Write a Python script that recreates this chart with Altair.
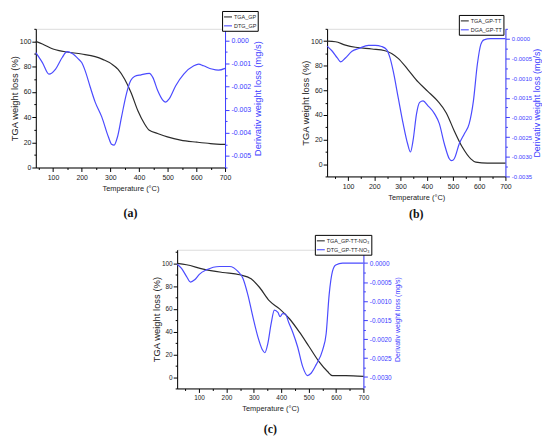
import altair as alt
import pandas as pd

# ---------------- data ----------------
# Panel (a)
a_names = ["TGA_GP", "DTG_GP"]
a_tga_T = [40, 63, 100, 121, 149, 200, 247, 275, 304, 327, 350, 372, 396, 419, 436, 465, 499, 545, 602, 649, 700]
a_tga_V = [100, 98, 94, 92.7, 91.6, 90, 88, 85.6, 82.2, 77.8, 70, 59.5, 45, 34.7, 29.5, 27, 24.3, 21.7, 20.1, 19, 18.3]
a_dtg_T = [40, 63, 86, 109, 132, 149, 167, 189, 200, 212, 230, 247, 270, 293, 304, 313, 325, 339, 356, 371,
           384, 407, 436, 448, 465, 482, 493, 505, 528, 556, 591, 608, 625, 654, 677, 700]
a_dtg_V = [-0.00053, -0.00096, -0.00146, -0.00124, -0.00074, -0.00049, -0.00057, -0.00081, -0.00096, -0.00131,
           -0.00203, -0.00267, -0.00331, -0.00417, -0.00449, -0.00453, -0.00417, -0.00331, -0.00231, -0.00174,
           -0.00156, -0.00149, -0.00143, -0.00160, -0.00217, -0.00257, -0.00267, -0.00253, -0.00196, -0.00146,
           -0.00110, -0.00103, -0.00110, -0.00124, -0.00129, -0.00121]

# Panel (b)
b_names = ["TGA_GP-TT", "DGA_GP-TT"]
b_tga_T = [20, 52, 90, 128, 191, 241, 266, 291, 329, 367, 404, 442, 474, 505, 536, 568, 587, 631, 700]
b_tga_V = [100, 99.5, 96.8, 95, 93.6, 92.2, 90, 86, 76.7, 66.8, 59.2, 51.2, 41.8, 27, 13.7, 4.3, 1.6, 0.8, 0.8]
b_dtg_T = [20, 40, 59, 72, 90, 115, 141, 178, 203, 228, 247, 260, 272, 291, 310, 327, 338, 348, 361, 373,
           386, 404, 430, 448, 467, 486, 495, 505, 524, 543, 562, 578, 593, 606, 618, 643, 700]
b_dtg_V = [-0.00019, -0.00032, -0.00049, -0.00059, -0.00049, -0.00032, -0.00025, -0.00017, -0.00017, -0.00020,
           -0.00028, -0.00049, -0.00082, -0.00149, -0.00216, -0.00267, -0.00288, -0.00258, -0.00191, -0.00162,
           -0.00158, -0.00170, -0.00191, -0.00216, -0.00267, -0.00305, -0.00310, -0.00305, -0.00267, -0.00242,
           -0.00216, -0.00158, -0.00065, -0.00015, -0.00003, 0.0, 0.0]

# Panel (c)
c_names = ["TGA_GP-TT-NO₃", "DTG_GP-TT-NO₃"]
c_tga_T = [20, 54, 115, 187, 248, 290, 321, 357, 394, 430, 466, 502, 538, 569, 587, 636, 700]
c_tga_V = [100, 98.8, 95, 92, 90, 86.4, 78.8, 67, 60, 51.3, 39.7, 26.7, 13.6, 4.9, 1.2, 1.2, 0.6]
c_dtg_T = [20, 36, 54, 69, 84, 102, 127, 175, 212, 242, 260, 278, 297, 315, 331, 340, 351, 363, 375, 388,
           396, 405, 415, 427, 442, 460, 478, 496, 509, 527, 551, 564, 575, 587, 599, 624, 700]
c_dtg_V = [-0.00003, -0.00014, -0.00035, -0.00050, -0.00044, -0.00029, -0.00018, -0.00009, -0.00009, -0.00022,
           -0.00040, -0.00083, -0.00143, -0.00195, -0.00228, -0.00236, -0.00212, -0.00160, -0.00124, -0.00130,
           -0.00141, -0.00133, -0.00134, -0.00156, -0.00182, -0.00221, -0.00272, -0.00296, -0.00290, -0.00268,
           -0.00229, -0.00186, -0.00083, -0.00022, -0.00005, 0.0, 0.0]

# ---------------- styling ----------------
BLACK = "#2b2b2b"
BLUE = "#4b4bff"
AXBLUE = "#3c3cff"
SANS = "Liberation Sans"
SERIF = "Liberation Serif"


def ticks(lo, hi, step):
    n = int(round((hi - lo) / step))
    return [round(lo + i * step, 6) + 0.0 for i in range(n + 1)]


def make_panel(names, tga_T, tga_V, dtg_T, dtg_V, x_dom, yl_dom, yr_dom, yl_ticks, yr_ticks,
               yr_fmt, yr_mult, w, h, legend_xy, caption, cap_offset,
               ylt_size=9.5, yrt_size=9.5, xt_size=7.5, lab_size=7, rlab_size=7, leg_size=5.5,
               rt_pad=2):
    tga_df = pd.DataFrame({"T": tga_T, "v": tga_V, "s": names[0]})
    dtg_df = pd.DataFrame({"T": dtg_T, "v": dtg_V, "s": names[1]})

    color = alt.Color(
        "s:N",
        scale=alt.Scale(domain=names, range=[BLACK, BLUE]),
        legend=alt.Legend(
            orient="none", legendX=legend_xy[0], legendY=legend_xy[1], title=None,
            strokeColor="#000000", fillColor="white", padding=1, rowPadding=-4,
            labelFont=SANS, labelFontSize=leg_size, labelColor="#222222", labelLimit=200,
            symbolType="stroke", symbolSize=64, symbolStrokeWidth=1.1, labelOffset=1,
        ),
    )
    x = alt.X(
        "T:Q",
        scale=alt.Scale(domain=x_dom, nice=False, zero=False),
        axis=alt.Axis(
            title="Temperature (°C)", values=ticks(50, 700, 50),
            labelExpr="datum.value % 100 == 0 ? datum.label : ''",
            tickSize={"condition": {"test": "datum.value % 100 == 0", "value": 4}, "value": 2},
            labelFont=SANS, labelFontSize=lab_size, titleFont=SANS, titleFontSize=xt_size,
            titleFontWeight="normal", labelColor="#222222", titleColor="#222222",
            domainColor="#000000", tickColor="#000000", grid=False, labelPadding=2, titlePadding=4,
            labelFlush=False, labelOverlap=False,
        ),
    )
    left = alt.Chart(tga_df).mark_line(interpolate="monotone", strokeWidth=1.2).encode(
        x=x,
        y=alt.Y(
            "v:Q",
            scale=alt.Scale(domain=yl_dom, nice=False, zero=False),
            axis=alt.Axis(
                title="TGA weight loss (%)", orient="left", values=yl_ticks,
                labelExpr="(datum.value % 20 == 0 && datum.value >= 0 && datum.value <= 100) ? datum.label : ''",
                tickSize={"condition": {"test": "datum.value % 20 == 0", "value": 4}, "value": 2},
                labelFont=SANS, labelFontSize=lab_size, titleFont=SANS, titleFontSize=ylt_size,
                titleFontWeight="normal", labelColor="#222222", titleColor="#222222",
                domainColor="#000000", tickColor="#000000", grid=False, labelPadding=1, titlePadding=0,
                labelFlush=False, labelOverlap=False,
            ),
        ),
        color=color,
    )
    test = f"abs(datum.value*{yr_mult} - round(datum.value*{yr_mult})) < 0.000001"
    right = alt.Chart(dtg_df).mark_line(interpolate="monotone", strokeWidth=1.2).encode(
        x=x,
        y=alt.Y(
            "v:Q",
            scale=alt.Scale(domain=yr_dom, nice=False, zero=False),
            axis=alt.Axis(
                title="Derivativ weight loss (mg/s)", orient="right", values=yr_ticks, format=yr_fmt,
                labelExpr=f"{test} ? replace(datum.label, '\u2212', '-') : ''",
                tickSize={"condition": {"test": test, "value": 4}, "value": 2},
                labelFont=SANS, labelFontSize=rlab_size, titleFont=SANS, titleFontSize=yrt_size,
                titleFontWeight="normal", labelColor=AXBLUE, titleColor=AXBLUE,
                titleAngle=270, titleBaseline="top",
                domainColor=AXBLUE, tickColor=AXBLUE, grid=False, labelPadding=2, titlePadding=rt_pad,
                labelFlush=False, labelOverlap=False,
            ),
        ),
        color=color,
    )
    return alt.layer(
        left, right,
        title=alt.TitleParams(caption, orient="bottom", anchor="middle", font=SERIF, fontSize=12,
                              fontWeight="bold", color="#111111", offset=cap_offset),
    ).resolve_scale(y="independent").properties(width=w, height=h)


pa = make_panel(a_names, a_tga_T, a_tga_V, a_dtg_T, a_dtg_V,
                x_dom=[40, 700], yl_dom=[0, 110], yr_dom=[-0.0055, 0.0005],
                yl_ticks=ticks(0, 110, 10), yr_ticks=ticks(-0.0055, 0.0005, 0.0005),
                yr_fmt=".3f", yr_mult=1000, w=191, h=140, legend_xy=[188, -18],
                caption="(a)", cap_offset=16)

pb = make_panel(b_names, b_tga_T, b_tga_V, b_dtg_T, b_dtg_V,
                x_dom=[20, 700], yl_dom=[-10, 110], yr_dom=[-0.0035, 0.00025],
                yl_ticks=ticks(-10, 110, 10), yr_ticks=ticks(-0.0035, 0.00025, 0.00025),
                yr_fmt=".4f", yr_mult=2000, w=180, h=149, legend_xy=[133, -14],
                caption="(b)", cap_offset=8, rlab_size=6, yrt_size=9, rt_pad=1)

pc = make_panel(c_names, c_tga_T, c_tga_V, c_dtg_T, c_dtg_V,
                x_dom=[20, 700], yl_dom=[-10, 112], yr_dom=[-0.0033, 0.00035],
                yl_ticks=ticks(-10, 110, 10), yr_ticks=ticks(-0.00325, 0.00025, 0.00025),
                yr_fmt=".4f", yr_mult=2000, w=188, h=140, legend_xy=[139, -15],
                caption="(c)", cap_offset=12, yrt_size=7, lab_size=6.5, rlab_size=6.5)

row1 = alt.hconcat(pa, pb, spacing=37).resolve_scale(color="independent").resolve_legend(color="independent")
chart = alt.vconcat(
    row1, pc, spacing=14, center=True,
    padding={"left": 0, "top": 0, "right": 0, "bottom": 0},
).resolve_scale(color="independent").resolve_legend(color="independent").configure_view(
    stroke="#000000", strokeWidth=1.2
).configure(background="white")

chart.save("out.html", embed_options={"renderer": "svg", "actions": False})
